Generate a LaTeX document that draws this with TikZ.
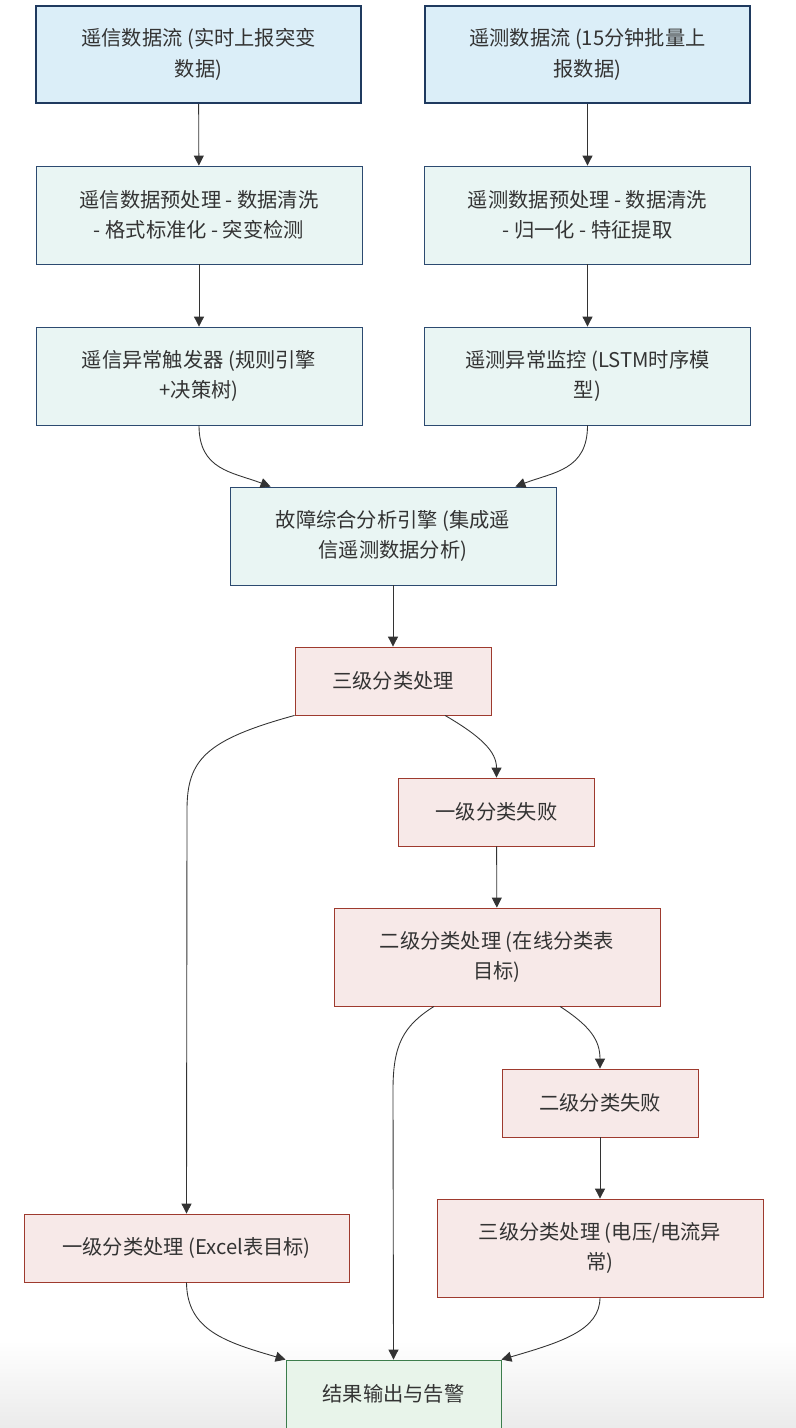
\documentclass[tikz,border=0pt]{standalone}
\usepackage{fontspec}
\setmainfont{Noto Sans CJK SC}
\usepackage{tikz}
\usetikzlibrary{arrows.meta,calc}

\definecolor{srcfill}{HTML}{DBEEF8}
\definecolor{srcdraw}{HTML}{1F3A5F}
\definecolor{prcfill}{HTML}{E9F5F3}
\definecolor{prcdraw}{HTML}{2C4A70}
\definecolor{clsfill}{HTML}{F7E9E8}
\definecolor{clsdraw}{HTML}{9E3A2E}
\definecolor{outfill}{HTML}{E8F4EA}
\definecolor{outdraw}{HTML}{3C7D4C}
\definecolor{txtgray}{HTML}{333333}

\begin{document}
\begin{tikzpicture}[x=0.03cm, y=-0.03cm,
  box/.style={rectangle, align=center, text=txtgray, inner sep=0pt,
    font=\fontsize{17.3}{26}\selectfont},
  srcbox/.style={box, fill=srcfill, draw=srcdraw, line width=1.6pt,
    minimum width=9.75cm, minimum height=2.91cm},
  prcbox/.style={box, fill=prcfill, draw=prcdraw, line width=0.7pt,
    minimum width=9.78cm, minimum height=2.94cm},
  clsbox/.style={box, fill=clsfill, draw=clsdraw, line width=0.7pt,
    minimum width=5.88cm, minimum height=2.04cm},
  clswide/.style={clsbox, minimum width=9.78cm, minimum height=2.94cm},
  outbox/.style={box, fill=outfill, draw=outdraw, line width=0.7pt,
    minimum width=6.45cm, minimum height=2.04cm},
  link/.style={draw=txtgray, line width=0.75pt,
    -{Triangle[length=0.3cm,width=0.3cm]}}]

\useasboundingbox (0,0) rectangle (796,1428);
\shade[top color=white, bottom color=black!8] (0,1340) rectangle (796,1428);

\node[srcbox] (txnode) at (198.5,54.5) {遥信数据流 (实时上报突变\\数据)};
\node[srcbox] (tmnode) at (587.5,54.5) {遥测数据流 (15分钟批量上\\报数据)};

\node[prcbox] (txpre) at (199,215) {遥信数据预处理 - 数据清洗\\- 格式标准化 - 突变检测};
\node[prcbox] (tmpre) at (587.5,215) {遥测数据预处理 - 数据清洗\\- 归一化 - 特征提取};

\node[prcbox] (txtrig) at (199,376) {遥信异常触发器 (规则引擎\\+决策树)};
\node[prcbox] (tmmon) at (587.5,376) {遥测异常监控 (LSTM时序模\\型)};

\node[prcbox] (engine) at (393,536) {故障综合分析引擎 (集成遥\\信遥测数据分析)};

\node[clsbox] (lvthree) at (393,681) {三级分类处理};
\node[clsbox] (failone) at (496.5,812) {一级分类失败};
\node[clswide] (lvtwo) at (497,957) {二级分类处理 (在线分类表\\目标)};
\node[clsbox] (failtwo) at (600,1103) {二级分类失败};
\node[clswide] (lvthreeb) at (600,1248) {三级分类处理 (电压/电流异\\常)};
\node[clsbox, minimum width=9.75cm] (lvone) at (186.5,1248) {一级分类处理 (Excel表目标)};

\node[outbox] (outnode) at (393.5,1394) {结果输出与告警};

\draw[link] (txnode) -- (txpre);
\draw[link] (tmnode) -- (tmpre);
\draw[link] (txpre) -- (txtrig);
\draw[link] (tmpre) -- (tmmon);
\draw[link] (txtrig.south) .. controls (199,470) and (232,472) .. ($(engine.north west)+(41,0)$);
\draw[link] (tmmon.south) .. controls (587.5,470) and (554,472) .. ($(engine.north east)+(-41,0)$);
\draw[link] (engine) -- (lvthree);
\draw[link] ($(lvthree.south)+(52,0)$) .. controls (482,737) and (496.5,752) .. (failone.north);
\draw[link] (lvthree.south west) .. controls (205,740) and (187,760) .. (187,810) -- (lvone.north);
\draw[link] (failone) -- (lvtwo);
\draw[link] ($(lvtwo.south)+(63,0)$) .. controls (590,1026) and (600,1040) .. (failtwo.north);
\draw[link] ($(lvtwo.south)+(-63,0)$) .. controls (403,1026) and (393,1045) .. (393,1090) -- (outnode.north);
\draw[link] (failtwo) -- (lvthreeb);
\draw[link] (lvone.south) .. controls (187,1330) and (225,1342) .. (outnode.north west);
\draw[link] (lvthreeb.south) .. controls (600,1330) and (562,1342) .. (outnode.north east);

\end{tikzpicture}
\end{document}
